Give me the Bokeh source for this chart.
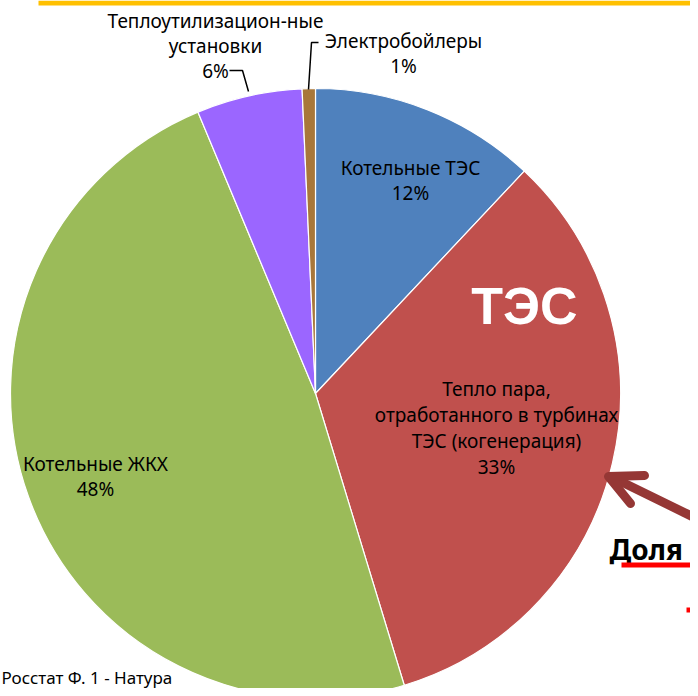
import numpy as np
import pandas as pd
from bokeh.plotting import figure
from bokeh.models import Range1d, ColumnDataSource
from bokeh.core.properties import value
from bokeh.embed import file_html
from bokeh.resources import INLINE

# ---------------- data ----------------
categories = ["Котельные ТЭС",
              "Тепло пара, отработанного в турбинах ТЭС (когенерация)",
              "Котельные ЖКХ",
              "Теплоутилизацион-ные установки",
              "Электробойлеры"]
shares = [12.0, 33.3, 48.4, 5.6, 0.7]
pct_labels = ["12%", "33%", "48%", "6%", "1%"]
label_lines = [
    ["Котельные ТЭС", "12%"],
    ["Тепло пара,", "отработанного в турбинах", "ТЭС (когенерация)", "33%"],
    ["Котельные ЖКХ", "48%"],
    ["Теплоутилизацион-ные", "установки", "6%"],
    ["Электробойлеры", "1%"],
]
source_note = "Росстат Ф. 1 - Натура"
big_label = "ТЭС"
side_label = "Доля"

# ---------------- style / layout ----------------
colors = ["#4F81BD", "#C0504D", "#9BBB59", "#9B66FF", "#A8773A"]
W, H = 690, 688
CX, CY, R = 315, 393, 305          # pie centre / radius (reference pixels)
label_pos = [(410, 167, 25), (496, 388, 26), (95, 463, 25), (215, 20, 25), (403, 40, 25)]
FONT = "Noto Sans"

def Y(py):
    return -py

p = figure(width=W, height=H, output_backend="svg", toolbar_location=None,
           x_range=Range1d(0, W), y_range=Range1d(Y(H), Y(0)),
           min_border=0, outline_line_color=None)
p.axis.visible = False
p.grid.visible = False
p.background_fill_color = "white"

# yellow bar at top
p.quad(left=38, right=700, top=Y(0), bottom=Y(5), fill_color="#FFC000", line_color=None)

# pie
df = pd.DataFrame({"cat": categories, "share": shares, "color": colors})
frac = df["share"] / df["share"].sum()
cum_end = frac.cumsum()
cum_start = cum_end - frac
df["start"] = np.pi / 2 - 2 * np.pi * cum_end
df["end"] = np.pi / 2 - 2 * np.pi * cum_start
src = ColumnDataSource(df)
p.wedge(x=CX, y=Y(CY), radius=R, start_angle="start", end_angle="end",
        fill_color="color", line_color="white", line_width=1.2, source=src)

# leader lines
p.line(x=[229, 242, 248], y=[Y(70), Y(70), Y(91)], line_color="black", line_width=1.5)
p.line(x=[318, 311, 308], y=[Y(42), Y(42), Y(89)], line_color="black", line_width=1.5)

# slice labels
for lines, (lx, ly, step) in zip(label_lines, label_pos):
    ys = [Y(ly + i * step) for i in range(len(lines))]
    p.text(x=[lx] * len(lines), y=ys, text=lines, text_align="center",
           text_baseline="middle", text_font=value(FONT), text_font_size="19px",
           text_color="black")

# big label
p.text(x=[524], y=[Y(305)], text=[big_label], text_align="center", text_baseline="middle",
       text_font=value("Liberation Sans"), text_font_style="bold",
       text_font_size="52px", text_color="white")

# arrow
AC = "#953735"
p.line(x=[700, 610], y=[Y(520), Y(476)], line_color=AC, line_width=9, line_cap="round")
p.line(x=[644, 608, 630], y=[Y(475), Y(476), Y(503)], line_color=AC, line_width=9,
       line_cap="round", line_join="round")

# side label
p.text(x=[609], y=[Y(548)], text=[side_label], text_align="left", text_baseline="middle",
       text_font=value(FONT), text_font_style="bold", text_font_size="28px", text_color="black")
p.quad(left=621, right=700, top=Y(562), bottom=Y(567), fill_color="#FF0000", line_color=None)
p.quad(left=686, right=690, top=Y(607), bottom=Y(612), fill_color="#FF0000", line_color=None)

# source note
p.text(x=[1], y=[Y(677)], text=[source_note], text_align="left", text_baseline="middle",
       text_font=value(FONT), text_font_size="17px", text_color="black")

open("out.html", "w").write(file_html(p, INLINE))
